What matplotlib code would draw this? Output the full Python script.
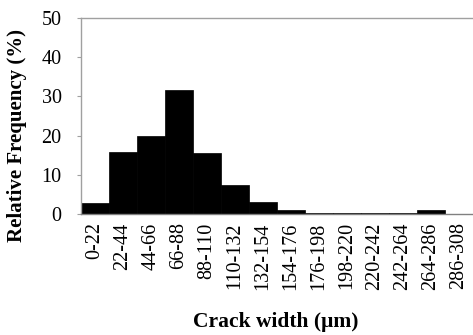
import numpy as np
import matplotlib.pyplot as plt

# Данные гистограммы
bins = ["0-22", "22-44", "44-66", "66-88", "88-110", "110-132", "132-154",
        "154-176", "176-198", "198-220", "220-242", "242-264", "264-286", "286-308"]
freq = [2.9, 15.9, 19.9, 31.6, 15.6, 7.4, 3.1, 0.9, 0.3, 0.3, 0.3, 0.3, 0.9, 0.0]

plt.rcParams['font.family'] = ['Liberation Serif', 'DejaVu Serif']

fig = plt.figure(figsize=(4.73, 3.35), dpi=100)
ax = fig.add_axes([81 / 473, 1 - 214 / 335, 1 - 81 / 473, (214 - 18) / 335])

x = np.arange(len(bins))
ax.bar(x, freq, width=1.0, color='black', edgecolor='black', linewidth=0.5)

ax.set_xlim(-0.5, len(bins) - 0.5)
ax.set_ylim(0, 50)
ax.set_yticks([0, 10, 20, 30, 40, 50])
ax.set_xticks(x)
ax.set_xticklabels(bins, rotation=90, fontsize=14.5)
ax.tick_params(axis='y', labelsize=14.5, length=3, color='#a0a0a0', pad=11)
ax.tick_params(axis='x', length=0, pad=6)

for s in ['left', 'top', 'bottom']:
    ax.spines[s].set_color('#a0a0a0')
    ax.spines[s].set_linewidth(1.0)
ax.spines['bottom'].set_color('#808080')
ax.spines['right'].set_visible(False)

fig.text(17 / 473, 1 - 135 / 335, 'Relative Frequency (%)', rotation=90,
         ha='center', va='center', fontsize=15, fontweight='bold')
fig.text(276 / 473, 1 - 322 / 335, 'Crack width (\u03bcm)',
         ha='center', va='center', fontsize=15.5, fontweight='bold')

fig.savefig('out.png', dpi=100)
